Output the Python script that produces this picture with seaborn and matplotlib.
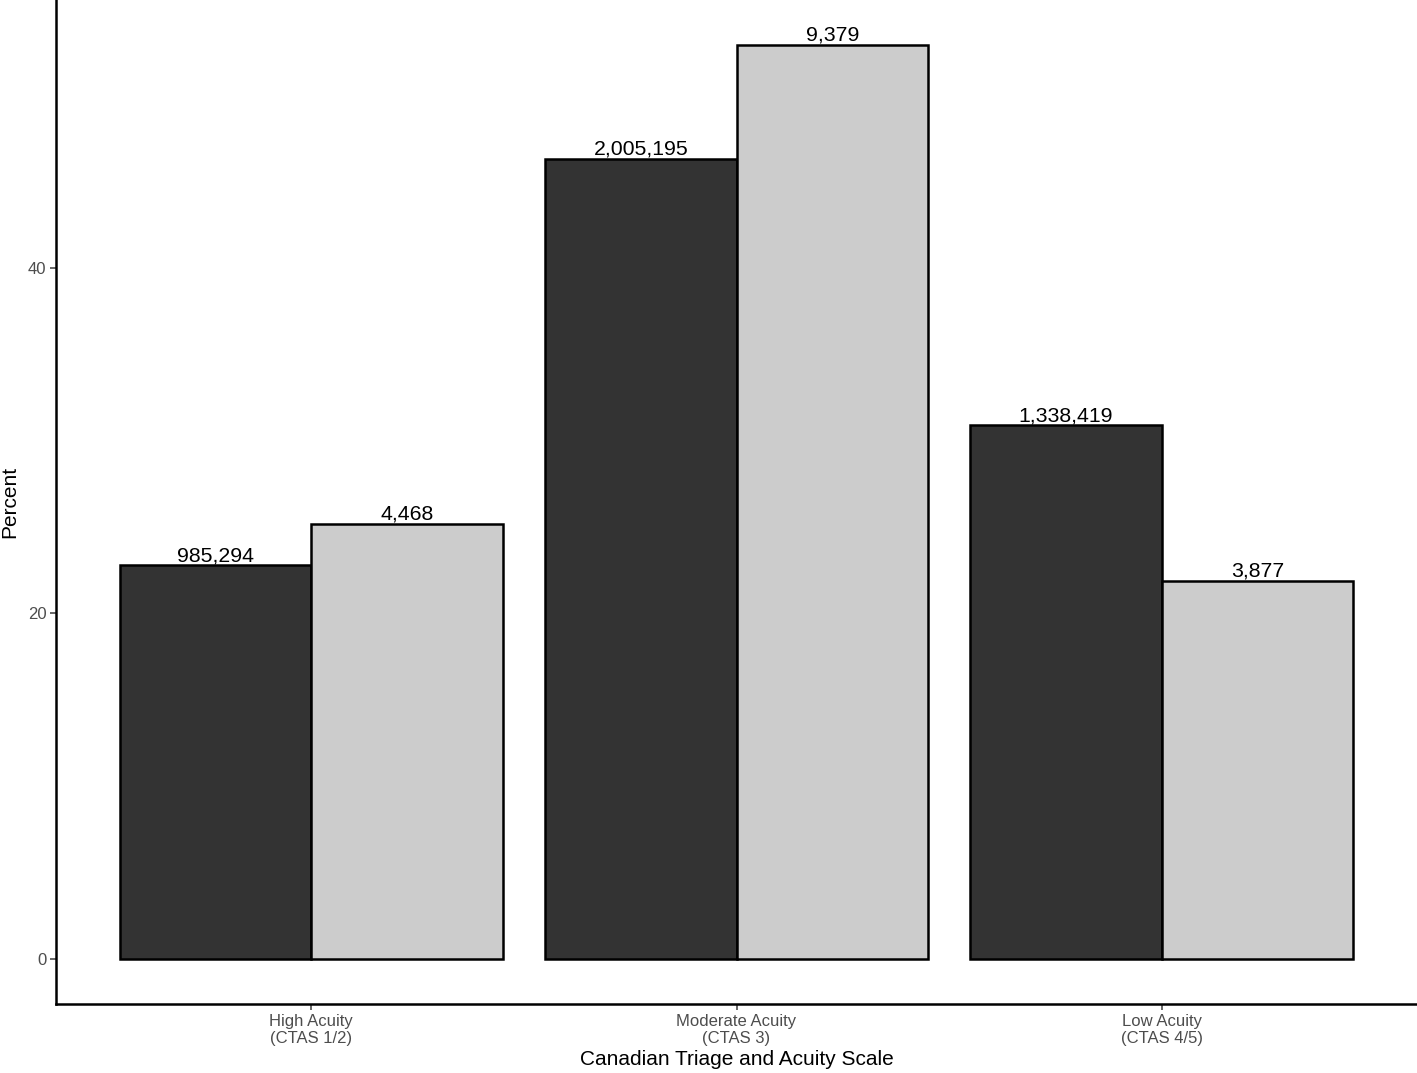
import matplotlib
matplotlib.use("Agg")
import matplotlib.pyplot as plt
import seaborn as sns
import pandas as pd

categories = ["High Acuity\n(CTAS 1/2)", "Moderate Acuity\n(CTAS 3)", "Low Acuity\n(CTAS 4/5)"]
groups = ["A", "B"]
pct_a = [22.8, 46.3, 30.9]
pct_b = [25.2, 52.9, 21.9]
count_a = [985294, 2005195, 1338419]
count_b = [4468, 9379, 3877]

df = pd.DataFrame({
    "cat": categories * 2,
    "grp": [groups[0]] * 3 + [groups[1]] * 3,
    "pct": pct_a + pct_b,
    "n": count_a + count_b,
})

sns.set_theme(style="ticks")
plt.rcParams["font.family"] = ["Liberation Sans", "DejaVu Sans"]

fig = plt.figure(figsize=(14.17, 10.73), dpi=100)
ax = fig.add_axes([56 / 1417, 69 / 1073, 1 - 56 / 1417, 1 - 69 / 1073])

sns.barplot(data=df, x="cat", y="pct", hue="grp", order=categories, hue_order=groups,
            palette=["#333333", "#CCCCCC"], width=0.9, edgecolor="black", linewidth=1.8,
            legend=False, ax=ax, saturation=1)

for cont, counts in zip(ax.containers, [count_a, count_b]):
    ax.bar_label(cont, labels=[f"{c:,}" for c in counts], padding=0, fontsize=15.3, color="black")

ax.set_xlim(-0.6, 2.6)
ax.set_ylim(-2.606, 55.5)
ax.set_yticks([0, 20, 40])
ax.set_xlabel("Canadian Triage and Acuity Scale", fontsize=15, color="black", labelpad=3)
ax.set_ylabel("Percent", fontsize=15, color="black", labelpad=6)
ax.tick_params(axis="both", colors="#4D4D4D", labelsize=12, length=4, width=1.2, pad=3)
ax.tick_params(axis="both", labelcolor="#4D4D4D")
for s in ["top", "right"]:
    ax.spines[s].set_visible(False)
for s in ["left", "bottom"]:
    ax.spines[s].set_linewidth(1.8)
    ax.spines[s].set_color("black")

fig.savefig("out.png", dpi=100)
